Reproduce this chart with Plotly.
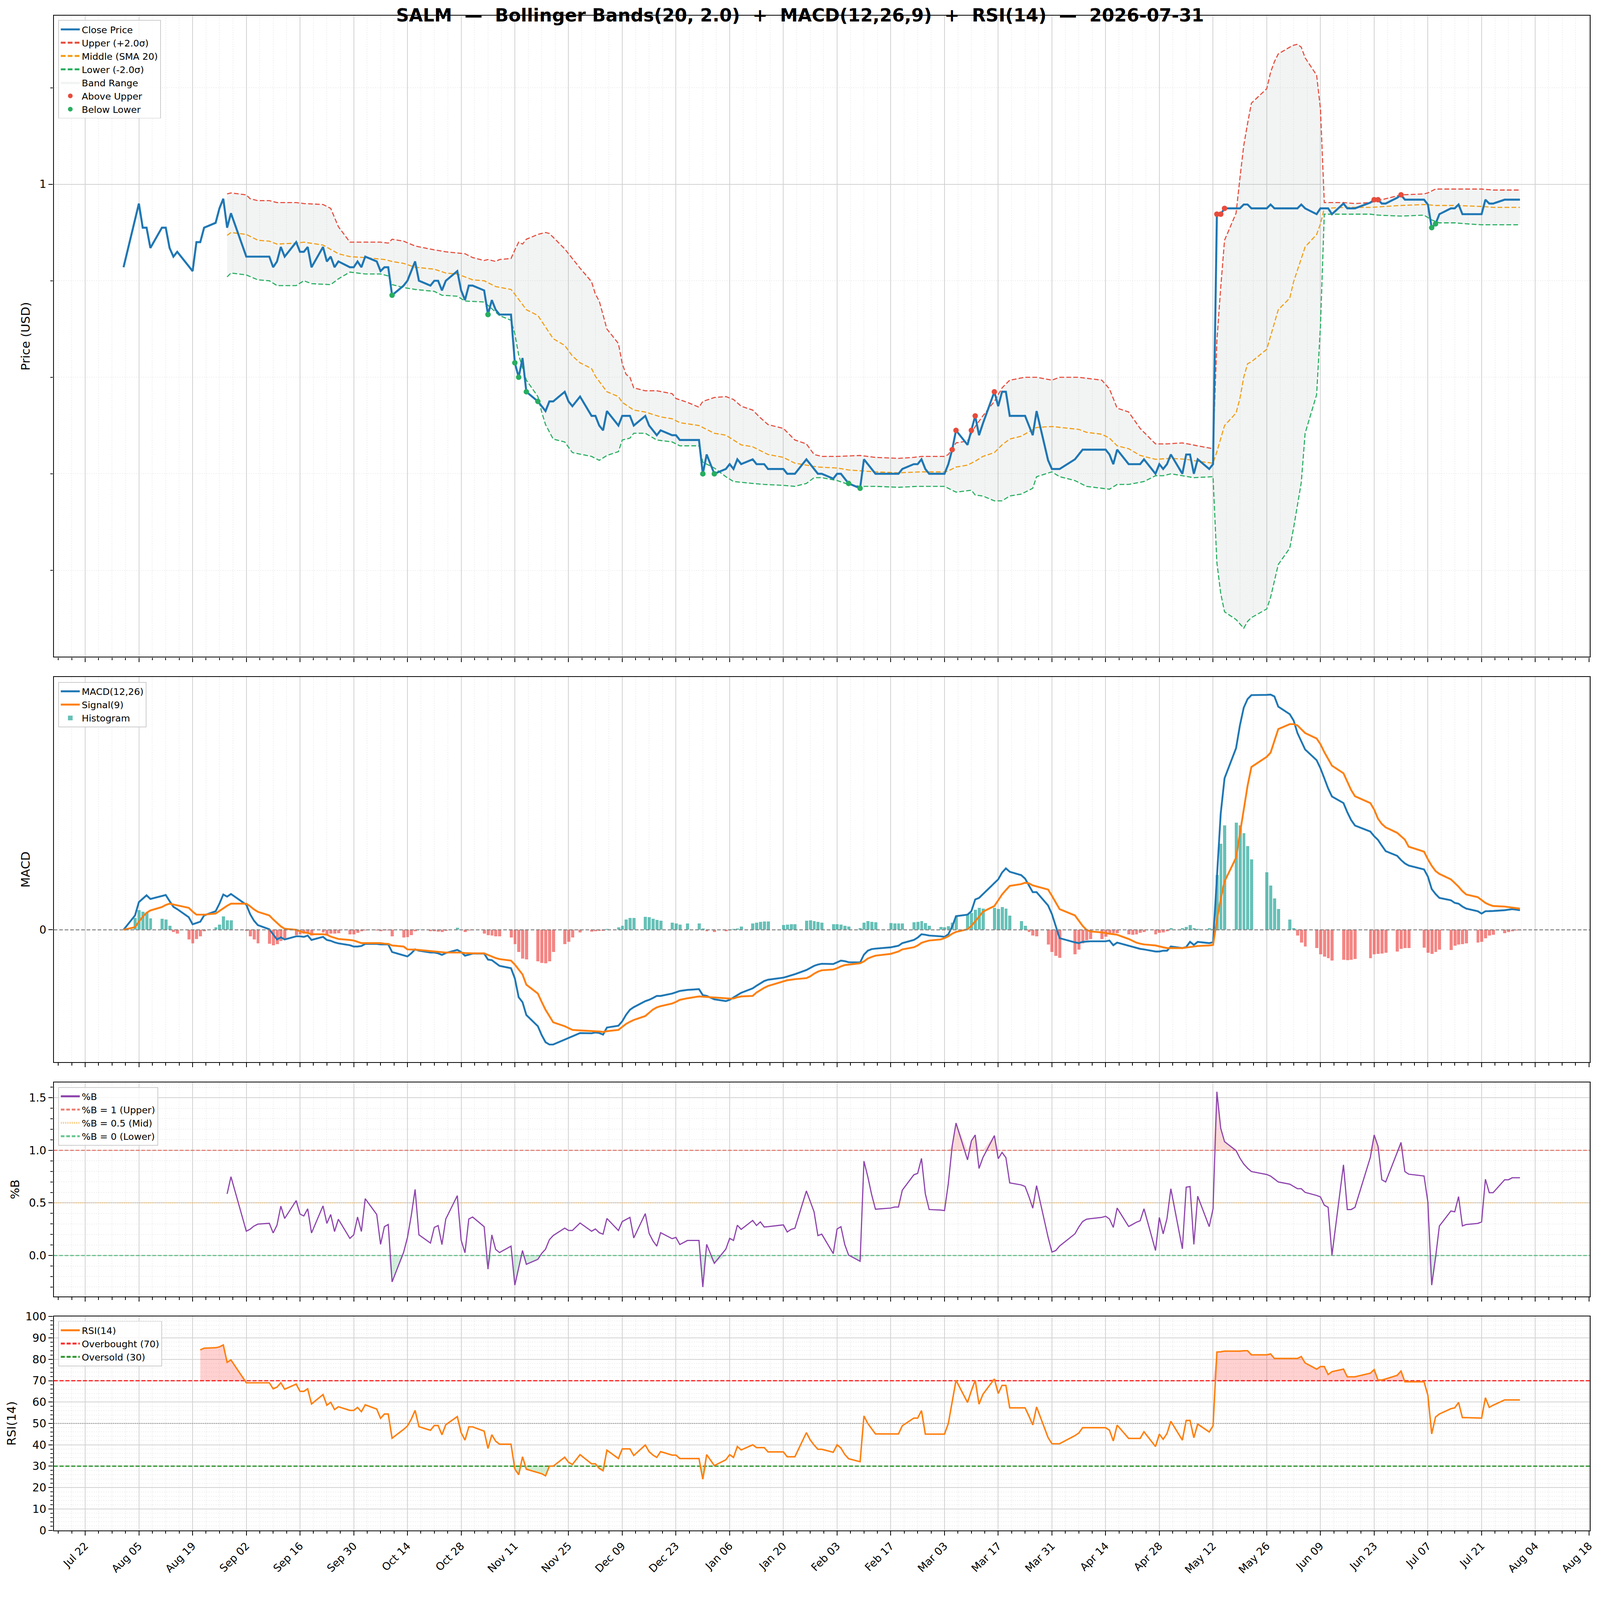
import pandas as pd
import plotly.graph_objects as go

# ---- trading calendar (x positions) ----
holidays = ["2025-09-01", "2025-11-27", "2025-12-25", "2026-01-01", "2026-01-19",
            "2026-02-16", "2026-04-03", "2026-05-25", "2026-06-19", "2026-07-03"]
days = pd.bdate_range("2025-08-01", "2026-07-31")
days = days[~days.isin(pd.to_datetime(holidays))]


def flat(rows):
    return [v for row in rows for v in row]


# ---- close price, one row per week ----
close = flat([
    [0.914],
    [0.964, 0.980, 0.955, 0.955, 0.934],
    [0.955, 0.955, 0.934, 0.925, 0.930],
    [0.915, 0.910, 0.940, 0.940, 0.955],
    [0.960, 0.975, 0.985, 0.955, 0.970],
    [0.925, 0.925, 0.925, 0.925],
    [0.925, 0.914, 0.920, 0.935, 0.925],
    [0.940, 0.930, 0.930, 0.935, 0.914],
    [0.935, 0.920, 0.925, 0.914, 0.920],
    [0.914, 0.914, 0.920, 0.914, 0.925],
    [0.920, 0.910, 0.914, 0.914, 0.885],
    [0.895, 0.900, 0.910, 0.920, 0.900],
    [0.895, 0.900, 0.900, 0.890, 0.900],
    [0.910, 0.890, 0.880, 0.895, 0.895],
    [0.890, 0.865, 0.880, 0.870, 0.865],
    [0.865, 0.815, 0.800, 0.820, 0.785],
    [0.775, 0.770, 0.765, 0.775, 0.775],
    [0.785, 0.775, 0.770, 0.780],
    [0.760, 0.760, 0.750, 0.745, 0.765],
    [0.750, 0.760, 0.760, 0.760, 0.750],
    [0.760, 0.750, 0.745, 0.740, 0.745],
    [0.740, 0.740, 0.735, 0.735],
    [0.735, 0.700, 0.720, 0.700],
    [0.705, 0.710, 0.705, 0.715, 0.710],
    [0.715, 0.710, 0.710, 0.710, 0.705],
    [0.705, 0.700, 0.700, 0.700],
    [0.715, 0.710, 0.705, 0.700, 0.700],
    [0.695, 0.700, 0.700, 0.695, 0.690],
    [0.685, 0.715, 0.710, 0.705, 0.700],
    [0.700, 0.700, 0.700, 0.705],
    [0.710, 0.710, 0.715, 0.705, 0.700],
    [0.700, 0.700, 0.710, 0.725, 0.745],
    [0.730, 0.745, 0.760, 0.740, 0.752],
    [0.785, 0.770, 0.785, 0.785, 0.760],
    [0.760, 0.760, 0.750, 0.740, 0.765],
    [0.714, 0.705, 0.705, 0.705],
    [0.715, 0.720, 0.725, 0.725, 0.725],
    [0.725, 0.725, 0.720, 0.710, 0.725],
    [0.710, 0.710, 0.710, 0.710, 0.715],
    [0.700, 0.710, 0.705, 0.710, 0.720],
    [0.700, 0.720, 0.720, 0.700, 0.715],
    [0.705, 0.710, 0.969, 0.969, 0.975],
    [0.975, 0.975, 0.979, 0.979, 0.975],
    [0.975, 0.979, 0.975, 0.975],
    [0.975, 0.975, 0.975, 0.979, 0.975],
    [0.969, 0.975, 0.975, 0.975, 0.969],
    [0.980, 0.975, 0.975, 0.975],
    [0.981, 0.984, 0.984, 0.980, 0.980],
    [0.986, 0.989, 0.984, 0.984],
    [0.984, 0.979, 0.955, 0.959, 0.969],
    [0.975, 0.975, 0.979, 0.969, 0.969],
    [0.969, 0.969, 0.984, 0.980, 0.980],
    [0.984, 0.984, 0.984, 0.984, 0.984],
])

# ---- Bollinger bands (vertices) ----
upper_dates = [
    "2025-08-28", "2025-08-29", "2025-09-02", "2025-09-03", "2025-09-05", "2025-09-08", "2025-09-10",
    "2025-09-15", "2025-09-17", "2025-09-22", "2025-09-24", "2025-09-26", "2025-09-29", "2025-10-07",
    "2025-10-09", "2025-10-10", "2025-10-13", "2025-10-16", "2025-10-21", "2025-10-24", "2025-10-29",
    "2025-10-31", "2025-11-03", "2025-11-04", "2025-11-06", "2025-11-07", "2025-11-10", "2025-11-11",
    "2025-11-12", "2025-11-13", "2025-11-14", "2025-11-17", "2025-11-19", "2025-11-20", "2025-11-21",
    "2025-11-24", "2025-11-25", "2025-11-28", "2025-12-01", "2025-12-02", "2025-12-03", "2025-12-05",
    "2025-12-08", "2025-12-09", "2025-12-10", "2025-12-11", "2025-12-12", "2025-12-15", "2025-12-18",
    "2025-12-22", "2025-12-23", "2025-12-26", "2025-12-29", "2025-12-30", "2026-01-02", "2026-01-05",
    "2026-01-07", "2026-01-09", "2026-01-12", "2026-01-14", "2026-01-16", "2026-01-20", "2026-01-23",
    "2026-01-26", "2026-01-28", "2026-01-30", "2026-02-03", "2026-02-09", "2026-02-13", "2026-02-19",
    "2026-02-23", "2026-02-25", "2026-03-03", "2026-03-04", "2026-03-06", "2026-03-09", "2026-03-11",
    "2026-03-13", "2026-03-16", "2026-03-18", "2026-03-20", "2026-03-24", "2026-03-27", "2026-03-31",
    "2026-04-02", "2026-04-07", "2026-04-09", "2026-04-13", "2026-04-15", "2026-04-17", "2026-04-20",
    "2026-04-23", "2026-04-27", "2026-04-30", "2026-05-04", "2026-05-08", "2026-05-11", "2026-05-12",
    "2026-05-13", "2026-05-14", "2026-05-15", "2026-05-18", "2026-05-19", "2026-05-20", "2026-05-21",
    "2026-05-22", "2026-05-26", "2026-05-27", "2026-05-28", "2026-05-29", "2026-06-01", "2026-06-02",
    "2026-06-03", "2026-06-04", "2026-06-05", "2026-06-08", "2026-06-09", "2026-06-10", "2026-06-15",
    "2026-06-18", "2026-06-22", "2026-06-24", "2026-06-30", "2026-07-06", "2026-07-07", "2026-07-09",
    "2026-07-21", "2026-07-24", "2026-07-31",
]
upper_vals = [
    0.990, 0.991, 0.989, 0.985, 0.983, 0.983, 0.981,
    0.981, 0.980, 0.979, 0.975, 0.956, 0.940, 0.940,
    0.939, 0.943, 0.941, 0.936, 0.932, 0.930, 0.928,
    0.924, 0.921, 0.922, 0.920, 0.922, 0.923, 0.932,
    0.940, 0.938, 0.943, 0.948, 0.950, 0.949, 0.945,
    0.933, 0.928, 0.913, 0.899, 0.886, 0.879, 0.850,
    0.835, 0.814, 0.803, 0.800, 0.789, 0.786, 0.786,
    0.783, 0.778, 0.774, 0.769, 0.775, 0.779, 0.780,
    0.777, 0.770, 0.766, 0.758, 0.751, 0.747, 0.735,
    0.731, 0.720, 0.718, 0.718, 0.719, 0.717, 0.716,
    0.717, 0.718, 0.718, 0.720, 0.732, 0.734, 0.749,
    0.760, 0.775, 0.789, 0.797, 0.800, 0.800, 0.797,
    0.800, 0.800, 0.799, 0.797, 0.788, 0.768, 0.764,
    0.747, 0.731, 0.731, 0.732, 0.729, 0.727, 0.726,
    0.838, 0.893, 0.942, 0.970, 1.006, 1.040, 1.063,
    1.084, 1.099, 1.116, 1.127, 1.135, 1.142, 1.144,
    1.145, 1.142, 1.131, 1.113, 1.078, 0.981, 0.981,
    0.980, 0.981, 0.983, 0.989, 0.990, 0.991, 0.995,
    0.995, 0.994, 0.994,
]

middle_dates = [
    "2025-08-28", "2025-08-29", "2025-09-02", "2025-09-05", "2025-09-08", "2025-09-10", "2025-09-15",
    "2025-09-17", "2025-09-22", "2025-09-26", "2025-09-29", "2025-10-03", "2025-10-08", "2025-10-10",
    "2025-10-13", "2025-10-16", "2025-10-21", "2025-10-24", "2025-10-27", "2025-10-31", "2025-11-03",
    "2025-11-06", "2025-11-10", "2025-11-11", "2025-11-14", "2025-11-17", "2025-11-21", "2025-11-24",
    "2025-11-26", "2025-11-28", "2025-12-01", "2025-12-02", "2025-12-05", "2025-12-08", "2025-12-09",
    "2025-12-12", "2025-12-15", "2025-12-19", "2025-12-22", "2025-12-24", "2025-12-29", "2026-01-02",
    "2026-01-05", "2026-01-09", "2026-01-12", "2026-01-16", "2026-01-20", "2026-01-23", "2026-01-29",
    "2026-02-03", "2026-02-06", "2026-02-13", "2026-02-19", "2026-02-25", "2026-03-03", "2026-03-04",
    "2026-03-06", "2026-03-09", "2026-03-11", "2026-03-13", "2026-03-16", "2026-03-18", "2026-03-20",
    "2026-03-23", "2026-03-27", "2026-03-31", "2026-04-07", "2026-04-09", "2026-04-13", "2026-04-15",
    "2026-04-17", "2026-04-20", "2026-04-23", "2026-04-27", "2026-05-01", "2026-05-05", "2026-05-08",
    "2026-05-12", "2026-05-13", "2026-05-14", "2026-05-15", "2026-05-18", "2026-05-19", "2026-05-20",
    "2026-05-21", "2026-05-22", "2026-05-26", "2026-05-29", "2026-06-01", "2026-06-02", "2026-06-05",
    "2026-06-08", "2026-06-09", "2026-06-10", "2026-06-15", "2026-06-22", "2026-06-30", "2026-07-06",
    "2026-07-09", "2026-07-14", "2026-07-21", "2026-07-24", "2026-07-31",
]
middle_vals = [
    0.947, 0.950, 0.948, 0.942, 0.941, 0.938, 0.939,
    0.940, 0.937, 0.928, 0.925, 0.924, 0.922, 0.920,
    0.918, 0.914, 0.912, 0.908, 0.907, 0.901, 0.900,
    0.894, 0.891, 0.886, 0.870, 0.864, 0.840, 0.833,
    0.822, 0.815, 0.809, 0.801, 0.785, 0.780, 0.774,
    0.766, 0.764, 0.759, 0.757, 0.753, 0.750, 0.742,
    0.740, 0.730, 0.728, 0.720, 0.717, 0.711, 0.707,
    0.706, 0.704, 0.702, 0.701, 0.702, 0.702, 0.703,
    0.707, 0.709, 0.713, 0.718, 0.722, 0.730, 0.736,
    0.739, 0.748, 0.749, 0.746, 0.743, 0.741, 0.737,
    0.729, 0.726, 0.719, 0.715, 0.716, 0.715, 0.713,
    0.711, 0.723, 0.736, 0.750, 0.763, 0.778, 0.800,
    0.814, 0.816, 0.829, 0.870, 0.882, 0.899, 0.935,
    0.948, 0.959, 0.975, 0.976, 0.976, 0.978, 0.979,
    0.978, 0.978, 0.977, 0.976, 0.976,
]

lower_dates = [
    "2025-08-28", "2025-08-29", "2025-09-02", "2025-09-05", "2025-09-08", "2025-09-10", "2025-09-15",
    "2025-09-17", "2025-09-19", "2025-09-24", "2025-09-26", "2025-09-29", "2025-10-03", "2025-10-07",
    "2025-10-09", "2025-10-10", "2025-10-13", "2025-10-16", "2025-10-21", "2025-10-23", "2025-10-27",
    "2025-10-29", "2025-11-03", "2025-11-05", "2025-11-07", "2025-11-10", "2025-11-11", "2025-11-12",
    "2025-11-14", "2025-11-17", "2025-11-18", "2025-11-19", "2025-11-21", "2025-11-24", "2025-11-26",
    "2025-12-01", "2025-12-03", "2025-12-05", "2025-12-08", "2025-12-09", "2025-12-11", "2025-12-12",
    "2025-12-15", "2025-12-18", "2025-12-22", "2025-12-24", "2025-12-29", "2025-12-30", "2026-01-02",
    "2026-01-05", "2026-01-07", "2026-01-12", "2026-01-15", "2026-01-20", "2026-01-23", "2026-01-26",
    "2026-01-28", "2026-01-30", "2026-02-03", "2026-02-06", "2026-02-09", "2026-02-13", "2026-02-19",
    "2026-02-24", "2026-03-03", "2026-03-06", "2026-03-10", "2026-03-11", "2026-03-13", "2026-03-16",
    "2026-03-18", "2026-03-20", "2026-03-23", "2026-03-26", "2026-03-27", "2026-03-31", "2026-04-02",
    "2026-04-06", "2026-04-09", "2026-04-13", "2026-04-15", "2026-04-17", "2026-04-20", "2026-04-24",
    "2026-04-27", "2026-04-29", "2026-05-01", "2026-05-04", "2026-05-07", "2026-05-12", "2026-05-13",
    "2026-05-14", "2026-05-15", "2026-05-18", "2026-05-20", "2026-05-21", "2026-05-22", "2026-05-26",
    "2026-05-27", "2026-05-29", "2026-06-01", "2026-06-02", "2026-06-04", "2026-06-05", "2026-06-08",
    "2026-06-09", "2026-06-10", "2026-06-15", "2026-06-22", "2026-06-24", "2026-06-30", "2026-07-06",
    "2026-07-08", "2026-07-10", "2026-07-14", "2026-07-17", "2026-07-21", "2026-07-31",
]
lower_vals = [
    0.904, 0.908, 0.906, 0.901, 0.900, 0.895, 0.895,
    0.900, 0.897, 0.896, 0.902, 0.909, 0.907, 0.907,
    0.905, 0.896, 0.893, 0.891, 0.889, 0.885, 0.884,
    0.879, 0.878, 0.871, 0.864, 0.859, 0.845, 0.823,
    0.797, 0.780, 0.764, 0.751, 0.736, 0.733, 0.722,
    0.718, 0.714, 0.719, 0.723, 0.735, 0.737, 0.742,
    0.742, 0.735, 0.733, 0.729, 0.729, 0.712, 0.706,
    0.697, 0.692, 0.690, 0.689, 0.688, 0.687, 0.690,
    0.696, 0.696, 0.693, 0.689, 0.687, 0.687, 0.686,
    0.687, 0.687, 0.681, 0.683, 0.678, 0.677, 0.672,
    0.672, 0.677, 0.679, 0.685, 0.697, 0.702, 0.697,
    0.693, 0.687, 0.685, 0.684, 0.689, 0.689, 0.692,
    0.698, 0.698, 0.700, 0.698, 0.696, 0.697, 0.608,
    0.576, 0.557, 0.549, 0.540, 0.547, 0.551, 0.560,
    0.572, 0.606, 0.623, 0.644, 0.691, 0.742, 0.782,
    0.853, 0.969, 0.969, 0.969, 0.968, 0.967, 0.968,
    0.963, 0.960, 0.960, 0.959, 0.958, 0.958,
]

# ---- band breaches ----
above_dates = ["2026-03-05", "2026-03-06", "2026-03-10", "2026-03-11", "2026-03-16",
               "2026-05-13", "2026-05-14", "2026-05-15", "2026-06-23", "2026-06-24", "2026-06-30"]
above_vals = [0.725, 0.745, 0.745, 0.760, 0.785, 0.969, 0.969, 0.975, 0.984, 0.984, 0.989]
below_dates = ["2025-10-10", "2025-11-04", "2025-11-11", "2025-11-12", "2025-11-14", "2025-11-17",
               "2025-12-30", "2026-01-02", "2026-02-06", "2026-02-09", "2026-07-08", "2026-07-09"]
below_vals = [0.885, 0.865, 0.815, 0.800, 0.785, 0.775, 0.700, 0.700, 0.690, 0.685, 0.955, 0.959]

# ---- MACD(12,26), signal(9), histogram ----
macd = flat([
    [0.0],
    [0.0055, 0.0106, 0.0120, 0.0132, 0.0118],
    [0.0129, 0.0133, 0.0110, 0.0088, 0.0079],
    [0.0048, 0.0021, 0.0026, 0.0031, 0.0055],
    [0.0071, 0.0100, 0.0135, 0.0127, 0.0137],
    [0.0096, 0.0060, 0.0035, 0.0018],
    [0.0002, -0.0017, -0.0037, -0.0029, -0.0037],
    [-0.0025, -0.0025, -0.0027, -0.0022, -0.0039],
    [-0.0027, -0.0039, -0.0042, -0.0048, -0.0052],
    [-0.0059, -0.0064, -0.0064, -0.0062, -0.0054],
    [-0.0054, -0.0056, -0.0056, -0.0056, -0.0085],
    [-0.0099, -0.0102, -0.0090, -0.0075, -0.0080],
    [-0.0087, -0.0087, -0.0090, -0.0096, -0.0089],
    [-0.0077, -0.0085, -0.0099, -0.0095, -0.0091],
    [-0.0091, -0.0114, -0.0116, -0.0127, -0.0138],
    [-0.0147, -0.0186, -0.0258, -0.0277, -0.0326],
    [-0.0369, -0.0403, -0.0430, -0.0439, -0.0439],
    [-0.0420, -0.0414, -0.0407, -0.0395],
    [-0.0396, -0.0393, -0.0395, -0.0401, -0.0374],
    [-0.0367, -0.0350, -0.0325, -0.0306, -0.0296],
    [-0.0273, -0.0268, -0.0261, -0.0253, -0.0253],
    [-0.0244, -0.0239, -0.0234, -0.0230],
    [-0.0227, -0.0250, -0.0253, -0.0266],
    [-0.0273, -0.0268, -0.0258, -0.0250, -0.0241],
    [-0.0224, -0.0214, -0.0205, -0.0196, -0.0191],
    [-0.0183, -0.0179, -0.0175, -0.0170],
    [-0.0154, -0.0145, -0.0138, -0.0133, -0.0130],
    [-0.0131, -0.0125, -0.0118, -0.0120, -0.0124],
    [-0.0125, -0.0095, -0.0080, -0.0074, -0.0072],
    [-0.0067, -0.0064, -0.0061, -0.0051],
    [-0.0039, -0.0030, -0.0017, -0.0019, -0.0022],
    [-0.0025, -0.0027, -0.0017, 0.0012, 0.0052],
    [0.0058, 0.0071, 0.0116, 0.0122, 0.0136],
    [0.0180, 0.0193, 0.0219, 0.0235, 0.0222],
    [0.0209, 0.0196, 0.0170, 0.0144, 0.0144],
    [0.0093, 0.0060, 0.0012, -0.0032],
    [-0.0048, -0.0051, -0.0046, -0.0045, -0.0044],
    [-0.0044, -0.0044, -0.0041, -0.0059, -0.0049],
    [-0.0061, -0.0066, -0.0070, -0.0073, -0.0075],
    [-0.0083, -0.0083, -0.0080, -0.0080, -0.0064],
    [-0.0070, -0.0066, -0.0046, -0.0058, -0.0046],
    [-0.0051, -0.0048, 0.0200, 0.0445, 0.0580],
    [0.0695, 0.0782, 0.0850, 0.0883, 0.0898],
    [0.0899, 0.0900, 0.0893, 0.0854],
    [0.0825, 0.0801, 0.0753, 0.0720, 0.0690],
    [0.0649, 0.0618, 0.0580, 0.0541, 0.0510],
    [0.0485, 0.0450, 0.0420, 0.0399],
    [0.0376, 0.0358, 0.0344, 0.0322, 0.0301],
    [0.0283, 0.0267, 0.0254, 0.0246],
    [0.0231, 0.0204, 0.0156, 0.0137, 0.0122],
    [0.0113, 0.0103, 0.0100, 0.0089, 0.0081],
    [0.0071, 0.0062, 0.0071, 0.0071, 0.0072],
    [0.0075, 0.0077, 0.0079, 0.0077, 0.0075],
])

signal = flat([
    [0.0],
    [0.0010, 0.0031, 0.0050, 0.0065, 0.0074],
    [0.0087, 0.0095, 0.0100, 0.0097, 0.0093],
    [0.0084, 0.0070, 0.0058, 0.0058, 0.0058],
    [0.0062, 0.0072, 0.0084, 0.0092, 0.0100],
    [0.0100, 0.0090, 0.0078, 0.0069],
    [0.0055, 0.0040, 0.0026, 0.0013, 0.0004],
    [0.0000, -0.0006, -0.0010, -0.0012, -0.0017],
    [-0.0017, -0.0019, -0.0026, -0.0031, -0.0035],
    [-0.0039, -0.0041, -0.0046, -0.0051, -0.0051],
    [-0.0051, -0.0051, -0.0053, -0.0054, -0.0060],
    [-0.0064, -0.0075, -0.0075, -0.0076, -0.0077],
    [-0.0081, -0.0082, -0.0083, -0.0086, -0.0087],
    [-0.0087, -0.0087, -0.0089, -0.0090, -0.0090],
    [-0.0090, -0.0096, -0.0103, -0.0108, -0.0112],
    [-0.0118, -0.0133, -0.0152, -0.0171, -0.0210],
    [-0.0244, -0.0276, -0.0306, -0.0330, -0.0354],
    [-0.0369, -0.0376, -0.0383, -0.0385],
    [-0.0387, -0.0388, -0.0389, -0.0391, -0.0388],
    [-0.0383, -0.0372, -0.0360, -0.0352, -0.0345],
    [-0.0330, -0.0318, -0.0305, -0.0297, -0.0292],
    [-0.0282, -0.0276, -0.0268, -0.0262],
    [-0.0255, -0.0256, -0.0258, -0.0260],
    [-0.0262, -0.0263, -0.0263, -0.0258, -0.0255],
    [-0.0253, -0.0240, -0.0230, -0.0222, -0.0215],
    [-0.0196, -0.0193, -0.0191, -0.0189],
    [-0.0185, -0.0178, -0.0168, -0.0160, -0.0155],
    [-0.0152, -0.0147, -0.0140, -0.0135, -0.0133],
    [-0.0128, -0.0121, -0.0110, -0.0104, -0.0099],
    [-0.0092, -0.0088, -0.0083, -0.0075],
    [-0.0067, -0.0060, -0.0050, -0.0045, -0.0041],
    [-0.0037, -0.0032, -0.0025, -0.0015, -0.0008],
    [0.0002, 0.0015, 0.0032, 0.0050, 0.0069],
    [0.0091, 0.0113, 0.0135, 0.0152, 0.0168],
    [0.0175, 0.0180, 0.0178, 0.0170, 0.0166],
    [0.0154, 0.0130, 0.0105, 0.0079],
    [0.0055, 0.0035, 0.0015, 0.0000, -0.0006],
    [-0.0010, -0.0013, -0.0015, -0.0017, -0.0019],
    [-0.0035, -0.0042, -0.0049, -0.0053, -0.0056],
    [-0.0060, -0.0064, -0.0067, -0.0070, -0.0070],
    [-0.0070, -0.0068, -0.0066, -0.0064, -0.0062],
    [-0.0060, -0.0058, 0.0036, 0.0118, 0.0185],
    [0.0276, 0.0368, 0.0464, 0.0551, 0.0623],
    [0.0662, 0.0678, 0.0724, 0.0768],
    [0.0787, 0.0787, 0.0782, 0.0768, 0.0753],
    [0.0732, 0.0710, 0.0680, 0.0655, 0.0628],
    [0.0599, 0.0567, 0.0535, 0.0511],
    [0.0485, 0.0460, 0.0425, 0.0405, 0.0392],
    [0.0371, 0.0358, 0.0345, 0.0318],
    [0.0299, 0.0270, 0.0245, 0.0225, 0.0214],
    [0.0193, 0.0180, 0.0165, 0.0148, 0.0135],
    [0.0125, 0.0113, 0.0103, 0.0096, 0.0091],
    [0.0089, 0.0087, 0.0085, 0.0083, 0.0081],
])

hist = flat([
    [0.0],
    [0.0045, 0.0075, 0.0070, 0.0067, 0.0044],
    [0.0042, 0.0040, 0.0015, -0.0008, -0.0014],
    [-0.0036, -0.0051, -0.0035, -0.0025, -0.0005],
    [0.0009, 0.0020, 0.0051, 0.0037, 0.0037],
    [-0.0004, -0.0025, -0.0036, -0.0051],
    [-0.0053, -0.0059, -0.0055, -0.0042, -0.0035],
    [-0.0020, -0.0018, -0.0015, -0.0012, -0.0022],
    [-0.0010, -0.0018, -0.0015, -0.0015, -0.0013],
    [-0.0017, -0.0017, -0.0012, -0.0006, -0.0002],
    [-0.0003, -0.0005, -0.0003, -0.0002, -0.0025],
    [-0.0030, -0.0028, -0.0020, -0.0005, 0.0002],
    [-0.0005, -0.0006, -0.0007, -0.0008, -0.0004],
    [0.0008, 0.0000, -0.0008, -0.0003, -0.0001],
    [-0.0015, -0.0020, -0.0022, -0.0025, -0.0025],
    [-0.0030, -0.0055, -0.0085, -0.0110, -0.0113],
    [-0.0120, -0.0127, -0.0128, -0.0120, -0.0085],
    [-0.0055, -0.0045, -0.0030, -0.0010],
    [-0.0007, -0.0005, -0.0004, -0.0004, 0.0003],
    [0.0010, 0.0015, 0.0040, 0.0045, 0.0045],
    [0.0050, 0.0048, 0.0043, 0.0038, 0.0035],
    [0.0028, 0.0025, 0.0020, 0.0025],
    [0.0025, 0.0005, -0.0005, -0.0008],
    [-0.0005, -0.0002, 0.0003, 0.0005, 0.0012],
    [0.0025, 0.0027, 0.0030, 0.0032, 0.0032],
    [0.0018, 0.0020, 0.0022, 0.0022],
    [0.0035, 0.0037, 0.0034, 0.0030, 0.0027],
    [0.0022, 0.0022, 0.0020, 0.0015, 0.0012],
    [0.0007, 0.0027, 0.0033, 0.0031, 0.0029],
    [0.0026, 0.0025, 0.0024, 0.0024],
    [0.0029, 0.0031, 0.0034, 0.0026, 0.0016],
    [0.0011, 0.0010, 0.0014, 0.0027, 0.0052],
    [0.0060, 0.0065, 0.0077, 0.0084, 0.0081],
    [0.0085, 0.0080, 0.0087, 0.0081, 0.0055],
    [0.0033, 0.0016, -0.0008, -0.0022, -0.0025],
    [-0.0056, -0.0085, -0.0099, -0.0107],
    [-0.0094, -0.0075, -0.0051, -0.0039, -0.0035],
    [-0.0035, -0.0027, -0.0017, -0.0013, -0.0013],
    [-0.0017, -0.0019, -0.0017, -0.0012, -0.0008],
    [-0.0017, -0.0012, -0.0010, -0.0006, 0.0007],
    [0.0007, 0.0011, 0.0018, 0.0007, 0.0004],
    [0.0006, 0.0004, 0.0210, 0.0330, 0.0400],
    [0.0410, 0.0400, 0.0370, 0.0320, 0.0270],
    [0.0220, 0.0170, 0.0120, 0.0080],
    [0.0040, 0.0007, -0.0022, -0.0048, -0.0064],
    [-0.0070, -0.0094, -0.0102, -0.0109, -0.0117],
    [-0.0114, -0.0116, -0.0114, -0.0112],
    [-0.0109, -0.0094, -0.0092, -0.0090, -0.0088],
    [-0.0083, -0.0073, -0.0070, -0.0070],
    [-0.0068, -0.0088, -0.0092, -0.0085, -0.0075],
    [-0.0077, -0.0061, -0.0056, -0.0054, -0.0052],
    [-0.0048, -0.0046, -0.0032, -0.0022, -0.0019],
    [-0.0013, -0.0008, -0.0006, -0.0003, -0.0002],
])

# ---- %B, from 2025-08-28 ----
pctb = flat([
    [0.586, 0.749],
    [0.231, 0.250, 0.280, 0.298],
    [0.306, 0.214, 0.288, 0.469, 0.352],
    [0.522, 0.394, 0.376, 0.444, 0.214],
    [0.472, 0.305, 0.390, 0.228, 0.345],
    [0.163, 0.196, 0.366, 0.228, 0.540],
    [0.390, 0.106, 0.274, 0.295, -0.251],
    [0.030, 0.170, 0.380, 0.628, 0.196],
    [0.118, 0.267, 0.285, 0.104, 0.347],
    [0.569, 0.146, 0.026, 0.347, 0.366],
    [0.274, -0.130, 0.196, 0.058, 0.028],
    [0.089, -0.282, -0.120, 0.047, -0.084],
    [-0.036, 0.020, 0.060, 0.150, 0.190],
    [0.260, 0.238, 0.238, 0.309],
    [0.231, 0.252, 0.217, 0.203, 0.352],
    [0.238, 0.323, 0.342, 0.362, 0.167],
    [0.398, 0.210, 0.139, 0.089, 0.217],
    [0.160, 0.172, 0.104, 0.143],
    [0.143, -0.300, 0.106, -0.074],
    [0.061, 0.163, 0.143, 0.288, 0.248],
    [0.333, 0.285, 0.320, 0.271, 0.274],
    [0.291, 0.224, 0.248, 0.259],
    [0.614, 0.515, 0.415, 0.189, 0.203],
    [0.018, 0.252, 0.274, 0.104, 0.004],
    [-0.055, 0.897, 0.750, 0.580, 0.440],
    [0.451, 0.461, 0.461, 0.621],
    [0.767, 0.781, 0.923, 0.586, 0.437],
    [0.432, 0.427, 0.685, 1.040, 1.259],
    [0.909, 1.089, 1.146, 0.827, 0.930],
    [1.140, 0.920, 0.980, 0.930, 0.690],
    [0.671, 0.656, 0.560, 0.450, 0.664],
    [0.174, 0.033, 0.047, 0.090],
    [0.206, 0.270, 0.323, 0.345, 0.350],
    [0.362, 0.373, 0.347, 0.267, 0.451],
    [0.276, 0.295, 0.316, 0.330, 0.444],
    [0.047, 0.362, 0.206, 0.352, 0.635],
    [0.064, 0.649, 0.656, 0.106, 0.564],
    [0.274, 0.444, 1.557, 1.209, 1.082],
    [0.997, 0.926, 0.870, 0.830, 0.798],
    [0.770, 0.755, 0.727, 0.699],
    [0.678, 0.656, 0.635, 0.635, 0.600],
    [0.571, 0.557, 0.479, 0.458, 0.004],
    [0.862, 0.437, 0.437, 0.458],
    [0.933, 1.146, 1.039, 0.720, 0.699],
    [0.980, 1.075, 0.798, 0.773],
    [0.756, 0.508, -0.282, -0.020, 0.280],
    [0.423, 0.415, 0.560, 0.281, 0.295],
    [0.305, 0.319, 0.725, 0.597, 0.597],
    [0.720, 0.720, 0.739, 0.739, 0.739],
])

# ---- RSI(14), from 2025-08-21 ----
rsi = flat([
    [84.4, 85.2],
    [85.4, 85.8, 86.7, 78.6, 79.7],
    [69.0, 69.0, 69.0, 69.0],
    [69.0, 66.2, 67.0, 69.0, 66.0],
    [68.4, 65.0, 65.0, 66.2, 59.1],
    [63.5, 58.5, 59.9, 56.5, 57.8],
    [56.1, 56.1, 57.5, 55.5, 58.7],
    [56.7, 52.4, 54.4, 54.4, 43.1],
    [47.2, 48.8, 52.0, 56.1, 48.5],
    [46.8, 49.0, 49.0, 44.7, 49.4],
    [53.2, 45.7, 42.2, 48.4, 48.4],
    [46.4, 38.3, 44.7, 41.7, 40.3],
    [40.3, 28.7, 26.0, 34.4, 28.6],
    [27.1, 26.5, 25.5, 30.0, 30.0],
    [34.2, 31.8, 30.8, 35.4],
    [31.1, 31.1, 29.0, 27.9, 37.5],
    [33.6, 38.1, 38.1, 38.1, 35.0],
    [39.9, 36.8, 35.2, 34.1, 36.8],
    [35.2, 35.2, 33.6, 33.6],
    [33.6, 23.9, 35.4, 30.3],
    [33.0, 35.4, 34.1, 39.2, 37.6],
    [40.0, 38.7, 38.7, 38.7, 36.7],
    [36.7, 34.4, 34.4, 34.4],
    [45.7, 42.3, 39.9, 37.9, 37.9],
    [36.5, 40.0, 38.5, 35.5, 33.5],
    [32.1, 53.5, 50.0, 47.5, 45.1],
    [45.1, 45.1, 45.1, 48.9],
    [52.5, 52.5, 56.0, 45.0, 45.0],
    [45.0, 45.0, 50.0, 60.0, 70.2],
    [59.8, 65.3, 70.2, 59.0, 63.6],
    [70.8, 64.0, 67.8, 67.8, 57.3],
    [57.3, 57.3, 53.5, 49.3, 57.7],
    [43.4, 40.5, 40.5, 40.5],
    [44.3, 45.5, 48.0, 48.0, 48.0],
    [48.0, 48.0, 46.8, 41.8, 49.2],
    [43.0, 43.0, 43.0, 43.0, 46.1],
    [39.2, 45.0, 42.6, 45.3, 51.0],
    [42.2, 51.4, 51.4, 43.3, 49.7],
    [46.0, 48.9, 83.4, 83.5, 83.8],
    [83.8, 83.8, 84.0, 84.0, 82.1],
    [82.1, 82.5, 80.4, 80.4],
    [80.4, 80.4, 80.4, 81.3, 78.3],
    [75.4, 76.6, 76.6, 72.9, 74.2],
    [75.4, 71.8, 71.8, 71.8],
    [73.5, 75.2, 70.3, 70.3, 70.8],
    [72.5, 74.5, 69.5, 69.5],
    [69.5, 63.2, 45.1, 53.0, 54.4],
    [56.9, 57.3, 59.8, 52.7, 52.7],
    [52.5, 52.5, 62.0, 57.5, 58.5],
    [61.0, 61.0, 61.0, 61.0, 61.0],
])

assert len(close) == len(days) == len(macd) == len(signal) == len(hist)
pctb_days = days[19:]
rsi_days = days[14:]
assert len(pctb) == len(pctb_days) and len(rsi) == len(rsi_days)

# ---- figure ----
# the page is photographed at ~1.069x, so lay the figure out in picture pixels
# and convert every pixel size back to css pixels with K
FONT = "DejaVu Sans"
PW, PH = 4378, 4322          # picture size
K = 1 / 1.0688
W, H = round(PW * K), round(PH * K)
x_start, x_end = "2025-07-13 19:12", "2026-08-18 04:48"
DAY = 86400000


def px(v):
    return v * K


def ydom(top, bottom):
    return [1 - bottom / PH, 1 - top / PH]


xdom = [147 / PW, 4350 / PW]
doms = [ydom(43, 1797), ydom(1852, 2906), ydom(2961, 3547), ydom(3602, 4187)]

fig = go.Figure()

# price panel
fig.add_trace(go.Scatter(x=lower_dates, y=lower_vals, mode="lines", line=dict(width=0),
                         showlegend=False, hoverinfo="skip", xaxis="x", yaxis="y"))
fig.add_trace(go.Scatter(x=upper_dates, y=upper_vals, mode="lines", line=dict(width=0),
                         fill="tonexty", fillcolor="rgba(149,165,166,0.12)", name="Band Range",
                         legend="legend", legendrank=5, xaxis="x", yaxis="y"))
dash_b = f"{px(13)}px,{px(6)}px"
fig.add_trace(go.Scatter(x=upper_dates, y=upper_vals, mode="lines", name="Upper (+2.0σ)",
                         line=dict(color="#e74c3c", width=px(3), dash=dash_b),
                         legend="legend", legendrank=2, xaxis="x", yaxis="y"))
fig.add_trace(go.Scatter(x=middle_dates, y=middle_vals, mode="lines", name="Middle (SMA 20)",
                         line=dict(color="#f39c12", width=px(3), dash=dash_b),
                         legend="legend", legendrank=3, xaxis="x", yaxis="y"))
fig.add_trace(go.Scatter(x=lower_dates, y=lower_vals, mode="lines", name="Lower (-2.0σ)",
                         line=dict(color="#27ae60", width=px(3), dash=dash_b),
                         legend="legend", legendrank=4, xaxis="x", yaxis="y"))
fig.add_trace(go.Scatter(x=days, y=close, mode="lines", name="Close Price",
                         line=dict(color="#1f77b4", width=px(5.5)),
                         legend="legend", legendrank=1, xaxis="x", yaxis="y"))
fig.add_trace(go.Scatter(x=above_dates, y=above_vals, mode="markers", name="Above Upper",
                         marker=dict(color="#e74c3c", size=px(15)),
                         legend="legend", legendrank=6, xaxis="x", yaxis="y"))
fig.add_trace(go.Scatter(x=below_dates, y=below_vals, mode="markers", name="Below Lower",
                         marker=dict(color="#27ae60", size=px(15)),
                         legend="legend", legendrank=7, xaxis="x", yaxis="y"))

# MACD panel
bar_colors = ["rgba(38,166,154,0.7)" if v >= 0 else "rgba(239,83,80,0.7)" for v in hist]
fig.add_trace(go.Bar(x=days, y=hist, width=0.8 * DAY, marker=dict(color=bar_colors, line=dict(width=0)),
                     name="Histogram", legend="legend2", legendrank=3, xaxis="x2", yaxis="y2"))
fig.add_trace(go.Scatter(x=days, y=macd, mode="lines", name="MACD(12,26)",
                         line=dict(color="#1f77b4", width=px(5)),
                         legend="legend2", legendrank=1, xaxis="x2", yaxis="y2"))
fig.add_trace(go.Scatter(x=days, y=signal, mode="lines", name="Signal(9)",
                         line=dict(color="#ff7f0e", width=px(5)),
                         legend="legend2", legendrank=2, xaxis="x2", yaxis="y2"))

# %B panel
dash_r = f"{px(10)}px,{px(5)}px"
dot_r = f"{px(3)}px,{px(3)}px"
b0, b1 = pctb_days[0], pctb_days[-1]
fig.add_trace(go.Scatter(x=[b0, b1], y=[1, 1], mode="lines", line=dict(width=0),
                         showlegend=False, hoverinfo="skip", xaxis="x3", yaxis="y3"))
fig.add_trace(go.Scatter(x=pctb_days, y=[max(v, 1) for v in pctb], mode="lines", line=dict(width=0),
                         fill="tonexty", fillcolor="rgba(231,76,60,0.2)",
                         showlegend=False, hoverinfo="skip", xaxis="x3", yaxis="y3"))
fig.add_trace(go.Scatter(x=[b0, b1], y=[0, 0], mode="lines", line=dict(width=0),
                         showlegend=False, hoverinfo="skip", xaxis="x3", yaxis="y3"))
fig.add_trace(go.Scatter(x=pctb_days, y=[min(v, 0) for v in pctb], mode="lines", line=dict(width=0),
                         fill="tonexty", fillcolor="rgba(39,174,96,0.2)",
                         showlegend=False, hoverinfo="skip", xaxis="x3", yaxis="y3"))
fig.add_trace(go.Scatter(x=[x_start, x_end], y=[1, 1], mode="lines", name="%B = 1 (Upper)",
                         line=dict(color="rgba(231,76,60,0.7)", width=px(3), dash=dash_r),
                         legend="legend3", legendrank=2, xaxis="x3", yaxis="y3"))
fig.add_trace(go.Scatter(x=[x_start, x_end], y=[0.5, 0.5], mode="lines", name="%B = 0.5 (Mid)",
                         line=dict(color="rgba(243,156,18,0.5)", width=px(2.5), dash=dot_r),
                         legend="legend3", legendrank=3, xaxis="x3", yaxis="y3"))
fig.add_trace(go.Scatter(x=[x_start, x_end], y=[0, 0], mode="lines", name="%B = 0 (Lower)",
                         line=dict(color="rgba(39,174,96,0.7)", width=px(3), dash=dash_r),
                         legend="legend3", legendrank=4, xaxis="x3", yaxis="y3"))
fig.add_trace(go.Scatter(x=pctb_days, y=pctb, mode="lines", name="%B",
                         line=dict(color="#8e44ad", width=px(3.2)),
                         legend="legend3", legendrank=1, xaxis="x3", yaxis="y3"))

# RSI panel
r0, r1 = rsi_days[0], rsi_days[-1]
fig.add_trace(go.Scatter(x=[r0, r1], y=[70, 70], mode="lines", line=dict(width=0),
                         showlegend=False, hoverinfo="skip", xaxis="x4", yaxis="y4"))
fig.add_trace(go.Scatter(x=rsi_days, y=[max(v, 70) for v in rsi], mode="lines", line=dict(width=0),
                         fill="tonexty", fillcolor="rgba(255,0,0,0.18)",
                         showlegend=False, hoverinfo="skip", xaxis="x4", yaxis="y4"))
fig.add_trace(go.Scatter(x=[r0, r1], y=[30, 30], mode="lines", line=dict(width=0),
                         showlegend=False, hoverinfo="skip", xaxis="x4", yaxis="y4"))
fig.add_trace(go.Scatter(x=rsi_days, y=[min(v, 30) for v in rsi], mode="lines", line=dict(width=0),
                         fill="tonexty", fillcolor="rgba(0,160,0,0.18)",
                         showlegend=False, hoverinfo="skip", xaxis="x4", yaxis="y4"))
fig.add_trace(go.Scatter(x=[x_start, x_end], y=[70, 70], mode="lines", name="Overbought (70)",
                         line=dict(color="rgba(255,0,0,0.8)", width=px(3.5), dash=f"{px(11)}px,{px(5)}px"),
                         legend="legend4", legendrank=2, xaxis="x4", yaxis="y4"))
fig.add_trace(go.Scatter(x=[x_start, x_end], y=[30, 30], mode="lines", name="Oversold (30)",
                         line=dict(color="rgba(0,128,0,0.8)", width=px(3.5), dash=f"{px(11)}px,{px(5)}px"),
                         legend="legend4", legendrank=3, xaxis="x4", yaxis="y4"))
fig.add_trace(go.Scatter(x=[x_start, x_end], y=[50, 50], mode="lines", showlegend=False,
                         line=dict(color="rgba(128,128,128,0.6)", width=px(2.5), dash=dot_r),
                         hoverinfo="skip", xaxis="x4", yaxis="y4"))
fig.add_trace(go.Scatter(x=rsi_days, y=rsi, mode="lines", name="RSI(14)",
                         line=dict(color="#ff7f0e", width=px(4)),
                         legend="legend4", legendrank=1, xaxis="x4", yaxis="y4"))

# MACD zero line
fig.add_shape(type="line", xref="x2", yref="y2", x0=x_start, x1=x_end, y0=0, y1=0,
              line=dict(color="rgba(128,128,128,0.9)", width=px(3), dash=dash_r))

GRID = "#d2d2d2"
MINOR = "#e2e2e2"


def minor(tick0, dtick):
    return dict(tick0=tick0, dtick=dtick, ticks="outside", ticklen=px(7), tickwidth=px(2),
                tickcolor="black", showgrid=True, gridcolor=MINOR, gridwidth=px(1.5), griddash="dot")


def xaxis(anchor, labels):
    return dict(
        type="date", range=[x_start, x_end], domain=xdom, anchor=anchor,
        tick0="2025-07-22", dtick=14 * DAY, tickformat="%b %d", tickangle=-45,
        showticklabels=labels, tickfont=dict(size=px(29)),
        ticks="outside", ticklen=px(12), tickwidth=px(2.5), tickcolor="black",
        showline=True, linecolor="black", linewidth=px(2.5), mirror=True,
        showgrid=True, gridcolor=GRID, gridwidth=px(2), zeroline=False,
        minor=minor("2025-07-22", 3.5 * DAY),
        automargin=False,
    )


def yaxis(dom, rng, title, anchor, **kw):
    d = dict(domain=dom, range=rng, anchor=anchor,
             title=dict(text=title, font=dict(size=px(33))),
             tickfont=dict(size=px(30)), ticks="outside", ticklen=px(12), tickwidth=px(2.5),
             tickcolor="black", showline=True, linecolor="black", linewidth=px(2.5), mirror=True,
             zeroline=False, automargin=False)
    d.update(kw)
    return d


def leg(top):
    return dict(x=159 / PW, y=1 - top / PH, xanchor="left", yanchor="top",
                bgcolor="rgba(255,255,255,0.8)", bordercolor="#cccccc", borderwidth=px(2),
                font=dict(size=px(25.5)), itemwidth=max(30, px(52)), itemsizing="constant",
                traceorder="normal")


fig.update_layout(
    width=W, height=H, margin=dict(l=0, r=0, t=0, b=0, pad=0),
    paper_bgcolor="white", plot_bgcolor="white",
    font=dict(family=FONT, color="black", size=px(29)),
    title=dict(text="<b>SALM\u00a0\u00a0—\u00a0\u00a0Bollinger Bands(20, 2.0)\u00a0\u00a0+\u00a0\u00a0"
                    "MACD(12,26,9)\u00a0\u00a0+\u00a0\u00a0RSI(14)\u00a0\u00a0—\u00a0\u00a02026-07-31</b>",
               x=0.5, xanchor="center", y=1 - 42 / PH, yanchor="middle",
               font=dict(size=px(49), family=FONT)),
    bargap=0,
    xaxis=xaxis("y", False),
    xaxis2=dict(xaxis("y2", False), matches="x"),
    xaxis3=dict(xaxis("y3", False), matches="x"),
    xaxis4=dict(xaxis("y4", True), matches="x"),
    yaxis=yaxis(doms[0], [0.5104, 1.1746], "Price (USD)", "x",
                tickmode="array", tickvals=[1], ticktext=["1"],
                showgrid=True, gridcolor=GRID, gridwidth=px(2),
                minor=dict(minor(0, 0.1), tickmode="linear")),
    yaxis2=yaxis(doms[1], [-0.05064, 0.09677], "MACD", "x2",
                 tickmode="array", tickvals=[0], ticktext=["0"], showgrid=False),
    yaxis3=yaxis(doms[2], [-0.389, 1.647], "%B", "x3",
                 tickmode="array", tickvals=[0, 0.5, 1.0, 1.5], ticktext=["0.0", "0.5", "1.0", "1.5"],
                 showgrid=True, gridcolor=GRID, gridwidth=px(2),
                 minor=dict(minor(0, 0.1), tickmode="linear")),
    yaxis4=yaxis(doms[3], [0, 100], "RSI(14)", "x4",
                 tickmode="linear", tick0=0, dtick=10,
                 showgrid=True, gridcolor=GRID, gridwidth=px(2),
                 minor=dict(minor(0, 2), tickmode="linear")),
    legend=leg(55),
    legend2=leg(1866),
    legend3=leg(2974),
    legend4=leg(3614),
)

fig.write_html("out.html", config={"displayModeBar": False},
               post_script="document.body.style.margin='0px';document.body.style.overflow='hidden';")
